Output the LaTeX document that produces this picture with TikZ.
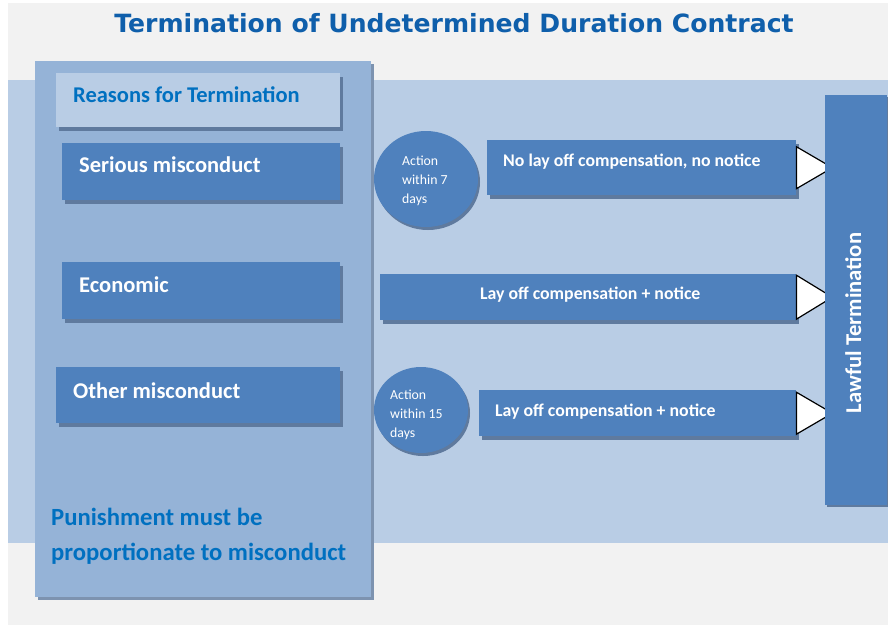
\documentclass[tikz,border=0pt]{standalone}
\usepackage{fontspec}
\setmainfont{Carlito}
\newfontfamily\titlefont{DejaVu Sans}
\usetikzlibrary{shapes.geometric,shadows,calc}
\definecolor{bggray}{HTML}{F2F2F2}
\definecolor{bandblue}{HTML}{B9CDE5}
\definecolor{panelblue}{HTML}{95B3D7}
\definecolor{boxblue}{HTML}{4F81BD}
\definecolor{textblue}{HTML}{0070C0}
\definecolor{titleblue}{HTML}{0F5FAB}
\definecolor{shadowblue}{HTML}{5F7A9E}
\definecolor{panelshadow}{HTML}{7D93B0}
\tikzset{
  box/.style={fill=boxblue,inner sep=0pt,anchor=north west,
    drop shadow={shadow xshift=3pt,shadow yshift=-4pt,fill=shadowblue,opacity=1}},
  bubble/.style={ellipse,fill=boxblue,inner sep=0pt,
    drop shadow={shadow xshift=2pt,shadow yshift=-3pt,fill=shadowblue,opacity=1}},
  whitetext/.style={text=white,font=\bfseries\fontsize{22.5}{27}\selectfont,inner sep=0pt,anchor=base west},
  smalltext/.style={text=white,font=\bfseries\fontsize{17.8}{21}\selectfont,inner sep=0pt,anchor=base west},
  bubbletext/.style={text=white,font=\fontsize{13.8}{19}\selectfont,inner sep=0pt,align=left,anchor=base west},
  tri/.style={fill=white,draw=black,line width=1.2pt,line join=miter}
}
\begin{document}
\begin{tikzpicture}[x=1pt,y=-1pt]
\fill[white] (0,0) rectangle (888,625);
\useasboundingbox (0,0) rectangle (888,625);
\fill[bggray] (8,3) rectangle (888,625);
\fill[bandblue] (8,80) rectangle (888,543);
\node[text=titleblue,font=\titlefont\bfseries\fontsize{25.1}{29}\selectfont,inner sep=0pt,anchor=base] (title) at (454,32) {Termination of Undetermined Duration Contract};
\node[fill=panelblue,inner sep=0pt,anchor=north west,minimum width=336pt,minimum height=536pt,
  drop shadow={shadow xshift=3pt,shadow yshift=-3pt,fill=panelshadow,opacity=1}] (panel) at (35,61) {};
\node[box,fill=bandblue,minimum width=284pt,minimum height=54pt] (reasons) at (56,73) {};
\node[box,minimum width=278pt,minimum height=57pt] (serious) at (62,143) {};
\node[box,minimum width=278pt,minimum height=57pt] (economic) at (62,262) {};
\node[box,minimum width=284pt,minimum height=56pt] (other) at (56,367) {};
\node[text=textblue,font=\bfseries\fontsize{22.5}{27}\selectfont,inner sep=0pt,anchor=base west] (reasonslbl) at ($(reasons.north west)+(17,29)$) {Reasons for Termination};
\node[whitetext] (seriouslbl) at ($(serious.north west)+(17,29)$) {Serious misconduct};
\node[whitetext] (economiclbl) at ($(economic.north west)+(17,30)$) {Economic};
\node[whitetext] (otherlbl) at ($(other.north west)+(17,31)$) {Other misconduct};
\node[text=textblue,font=\bfseries\fontsize{24.7}{35}\selectfont,inner sep=0pt,align=left,anchor=base west] (punish) at (51,560) {Punishment must be\\proportionate to misconduct};
\node[bubble,minimum width=104pt,minimum height=96pt] (seven) at (426,179) {};
\node[bubble,minimum width=94pt,minimum height=86pt] (fifteen) at (421,410) {};
\node[bubbletext] (sevenlbl) at (402,203) {Action\\within 7\\days};
\node[bubbletext] (fifteenlbl) at (390,437) {Action\\within 15\\days};
\node[box,minimum width=309pt,minimum height=55pt] (nolay) at (487,140) {};
\node[box,minimum width=416pt,minimum height=46pt] (layoff) at (380,274) {};
\node[box,minimum width=317pt,minimum height=46pt] (laynotice) at (479,390) {};
\node[smalltext] (nolaylbl) at ($(nolay.north west)+(16,26)$) {No lay off compensation, no notice};
\node[smalltext,anchor=base] (layofflbl) at ($(layoff.north)+(2,25)$) {Lay off compensation + notice};
\node[smalltext] (laynoticelbl) at ($(laynotice.north west)+(16,26)$) {Lay off compensation + notice};
\draw[tri] ($(nolay.east)+(0,-21)$) -- ($(nolay.east)+(36,0)$) -- ($(nolay.east)+(0,21)$) -- cycle;
\draw[tri] ($(layoff.east)+(0,-22)$) -- ($(layoff.east)+(36,0)$) -- ($(layoff.east)+(0,22)$) -- cycle;
\draw[tri] ($(laynotice.east)+(0,-21)$) -- ($(laynotice.east)+(36,0)$) -- ($(laynotice.east)+(0,21)$) -- cycle;
\node[fill=boxblue,inner sep=0pt,anchor=north west,minimum width=62pt,minimum height=410pt,
  drop shadow={shadow xshift=2pt,shadow yshift=-2pt,fill=shadowblue,opacity=1}] (lawful) at (825,95) {};
\node[text=white,font=\bfseries\fontsize{22.6}{26}\selectfont,inner sep=0pt,rotate=90] (lawfullbl) at ($(lawful.north)+(-3,228)$) {Lawful Termination};
\end{tikzpicture}
\end{document}
